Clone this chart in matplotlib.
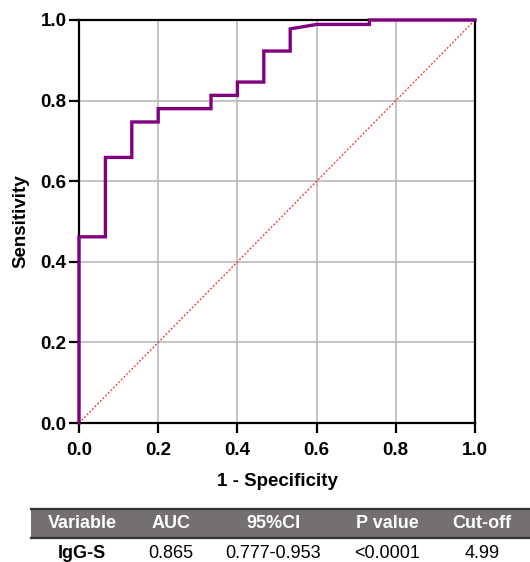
import matplotlib
matplotlib.use("Agg")
import matplotlib.pyplot as plt
from matplotlib.patches import Rectangle

plt.rcParams['font.family'] = ['Liberation Sans', 'DejaVu Sans']

# ROC curve vertices (1 - specificity, sensitivity)
fpr = [0, 0, 1/15, 1/15, 2/15, 2/15, 3/15, 3/15, 5/15, 5/15, 6/15, 6/15,
       7/15, 7/15, 8/15, 8/15, 9/15, 11/15, 11/15, 1.0]
tpr = [0, 0.462, 0.462, 0.659, 0.659, 0.747, 0.747, 0.780, 0.780, 0.813,
       0.813, 0.846, 0.846, 0.923, 0.923, 0.978, 0.989, 0.989, 1.0, 1.0]

ticks = [0.0, 0.2, 0.4, 0.6, 0.8, 1.0]
tick_labels = ['0.0', '0.2', '0.4', '0.6', '0.8', '1.0']

headers = ['Variable', 'AUC', '95%CI', 'P value', 'Cut-off']
row = ['IgG-S', '0.865', '0.777-0.953', '<0.0001', '4.99']

fig = plt.figure(figsize=(5.30, 5.62), dpi=100)
ax = fig.add_axes([79/530, 1 - 423/562, (475 - 79)/530, (423 - 20)/562])

ax.grid(True, color='#b4b4b4', linewidth=1.1, zorder=0)
ax.plot([0, 1], [0, 1], color='#ff2020', linestyle=(0, (1.5, 1.5)), linewidth=0.9, zorder=2)
ax.plot(fpr, tpr, color='#800080', linewidth=2.4, zorder=3, solid_joinstyle='miter',
        clip_on=False)

ax.set_xlim(0, 1)
ax.set_ylim(0, 1)
ax.set_xticks(ticks)
ax.set_yticks(ticks)
ax.set_xticklabels(tick_labels, fontsize=13.5, fontweight='bold')
ax.set_yticklabels(tick_labels, fontsize=13.5, fontweight='bold')
ax.tick_params(direction='out', length=7, width=1.6, pad=2)
ax.tick_params(axis='x', pad=7)
for s in ax.spines.values():
    s.set_linewidth(1.6)
    s.set_color('black')
ax.set_xlabel('1 - Specificity', fontsize=13.5, fontweight='bold', labelpad=10)
ax.set_ylabel('Sensitivity', fontsize=13.5, fontweight='bold', labelpad=8)

# summary table below the plot
W, H = 530, 562
fig.add_artist(Rectangle((31/W, 1 - 538/H), (530 - 31)/W, 29/H,
                         transform=fig.transFigure, facecolor='#757070',
                         edgecolor='none'))
for yy in (509, 538):
    fig.add_artist(plt.Line2D([31/W, 1], [1 - yy/H, 1 - yy/H],
                              transform=fig.transFigure, color='#333333', linewidth=1.6))
col_x = [82, 171, 273, 387, 482]
for cx, h, v in zip(col_x, headers, row):
    fig.text(cx/W, 1 - 524/H, h, ha='center', va='center', color='white',
             fontsize=13, fontweight='bold')
    fig.text(cx/W, 1 - 553/H, v, ha='center', va='center', color='black',
             fontsize=13, fontweight='bold' if h == 'Variable' else 'normal')

fig.savefig('out.png', dpi=100)
